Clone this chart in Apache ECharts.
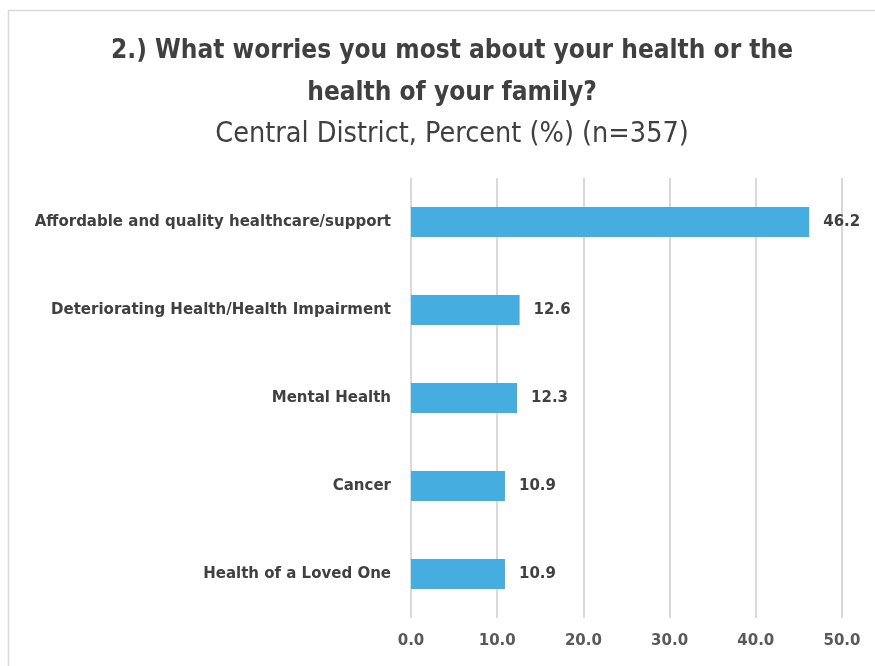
<!DOCTYPE html>
<html><head><meta charset="utf-8">
<script src="https://cdn.jsdelivr.net/npm/echarts@6/dist/echarts.min.js"></script>
<style>html,body{margin:0;padding:0;background:#fff}#c{width:875px;height:666px}</style>
</head><body><div id="c"></div>
<script>
const categories = ["Affordable and quality healthcare/support","Deteriorating Health/Health Impairment","Mental Health","Cancer","Health of a Loved One"];
const values = [46.2, 12.6, 12.3, 10.9, 10.9];
const titleText = "2.) What worries you most about your health or the\nhealth of your family?";
const subtitleText = "Central District, Percent (%) (n=357)";

const condensed = "'DejaVu Sans Condensed', 'Liberation Sans Narrow', Roboto, sans-serif";
const labelFont = "'DejaVu Sans', sans-serif";
const chart = echarts.init(document.getElementById('c'));
chart.setOption({
  backgroundColor:'#fff',
  animation:false,
  graphic:[{type:'rect',shape:{x:8.5,y:10.5,width:880,height:700},style:{fill:'none',stroke:'#d9d9d9',lineWidth:1.5}}],
  title:{text:titleText,subtext:subtitleText,left:447,textAlign:'center',top:25,itemGap:6,
    textStyle:{fontFamily:condensed,fontWeight:'bold',fontSize:26,color:'#404040',lineHeight:42},
    subtextStyle:{fontFamily:condensed,fontSize:28.5,color:'#404040'}},
  grid:{left:411,right:33,top:178,bottom:48,containLabel:false},
  xAxis:{type:'value',min:0,max:50,interval:10,
    axisLine:{show:false},axisTick:{show:false},
    splitLine:{lineStyle:{color:'#d9d9d9',width:2}},
    axisLabel:{formatter:v=>v.toFixed(1),fontFamily:labelFont,fontWeight:'bold',fontSize:15,color:'#595959',margin:16}},
  yAxis:{type:'category',data:categories,inverse:true,
    axisLine:{show:false},axisTick:{show:false},
    axisLabel:{fontFamily:labelFont,fontWeight:'bold',fontSize:15,color:'#404040',margin:20}},
  series:[{type:'bar',data:values,barWidth:30,itemStyle:{color:'#46ADE0'},
    label:{show:true,position:'right',distance:14,formatter:p=>p.value.toFixed(1),fontFamily:labelFont,fontWeight:'bold',fontSize:15,color:'#404040'}}]
});
</script></body></html>
